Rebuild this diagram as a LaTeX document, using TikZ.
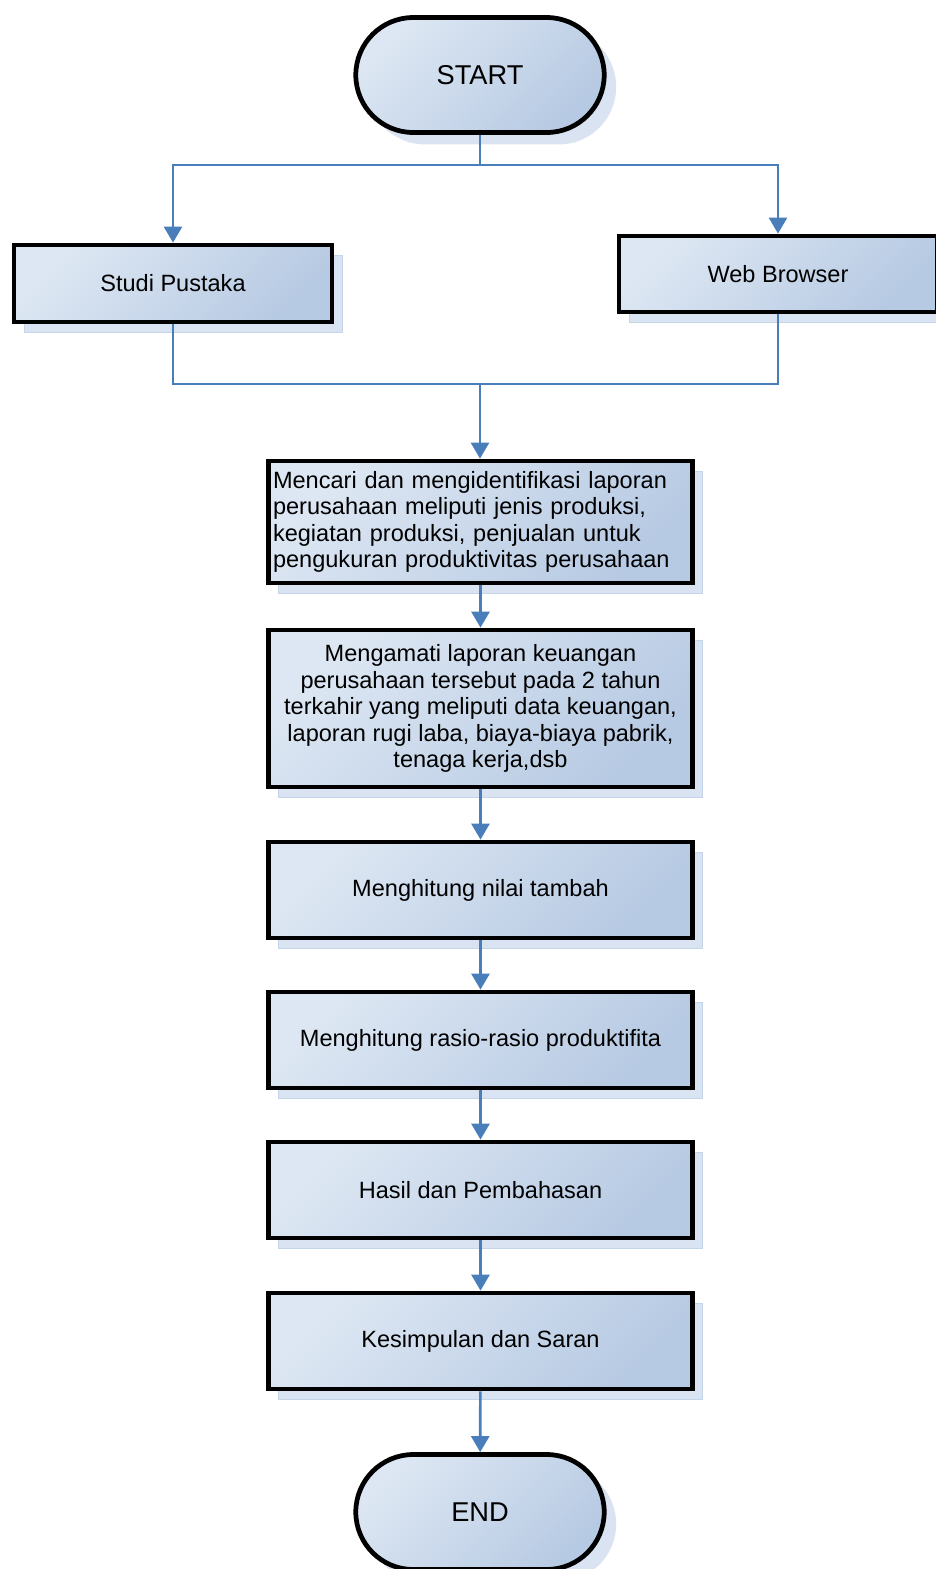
\documentclass[tikz,border=0pt]{standalone}
\usepackage{fontspec}
\setmainfont{Liberation Sans}
\usepackage{tikz}
\usetikzlibrary{arrows.meta, shapes.misc, shadows}
\definecolor{flowblue}{HTML}{4A7EBB}
\definecolor{gradlight}{HTML}{DDE7F3}
\definecolor{graddark}{HTML}{B7CAE3}
\definecolor{shadowblue}{HTML}{D9E3F1}

\begin{document}
\begin{tikzpicture}[x=0.02cm, y=-0.02cm,
  every node/.style={font=\fontsize{13.4}{15.1}\selectfont},
  box/.style={draw, line width=2.7pt, top color=gradlight, bottom color=graddark, shading angle=45,
    general shadow={shadow xshift=0.2cm, shadow yshift=-0.2cm, fill=shadowblue, draw=shadowblue!85!flowblue, line width=0.4pt},
    minimum width=8.48cm, minimum height=1.92cm, align=center, inner sep=3pt},
  term/.style={box, rounded rectangle, minimum width=5.18cm, minimum height=2.3cm,
    general shadow={shadow xshift=0.24cm, shadow yshift=-0.24cm, fill=shadowblue},
    font=\fontsize{15.5}{18}\selectfont},
  link/.style={draw=flowblue, line width=1.5pt},
  arrow/.style={link, -{Triangle[length=0.32cm, width=0.36cm]}}]
  \useasboundingbox (0,0) rectangle (936,1569);

  \node[term] (start) at (480,75) {START};
  \node[box, minimum width=6.36cm, minimum height=1.54cm] (studi) at (173,283.5) {Studi Pustaka};
  \node[box, minimum width=6.36cm, minimum height=1.52cm] (web) at (778,274) {Web Browser};
  \node[box, minimum height=2.44cm, align=left, text width=8.3cm, inner sep=1pt] (cari) at (480.5,522)
    {Mencari dan mengidentifikasi laporan\\perusahaan meliputi jenis produksi,\\kegiatan produksi, penjualan untuk\\pengukuran produktivitas perusahaan};
  \node[box, minimum height=3.14cm] (amati) at (480.5,708.5)
    {Mengamati laporan keuangan\\perusahaan tersebut pada 2 tahun\\terkahir yang meliputi data keuangan,\\laporan rugi laba, biaya-biaya pabrik,\\tenaga kerja,dsb};
  \node[box] (tambah) at (480.5,890) {Menghitung nilai tambah};
  \node[box] (rasio) at (480.5,1040) {Menghitung rasio-rasio produktifita};
  \node[box] (hasil) at (480.5,1190) {Hasil dan Pembahasan};
  \node[box] (simpul) at (480.5,1341) {Kesimpulan dan Saran};
  \node[term] (end) at (480,1512) {END};

  \coordinate (split) at (480,165);
  \coordinate (merge) at (480,384);

  \draw[link] (start.south) -- (split);
  \draw[arrow] (split) -| (studi.north);
  \draw[arrow] (split) -| (web.north);
  \draw[link] (studi.south) |- (merge) -| (web.south);
  \draw[arrow] (merge) -- (merge |- cari.north);
  \draw[arrow] (cari) -- (amati);
  \draw[arrow] (amati) -- (tambah);
  \draw[arrow] (tambah) -- (rasio);
  \draw[arrow] (rasio) -- (hasil);
  \draw[arrow] (hasil) -- (simpul);
  \draw[arrow] (simpul) -- (end);
\end{tikzpicture}
\end{document}
